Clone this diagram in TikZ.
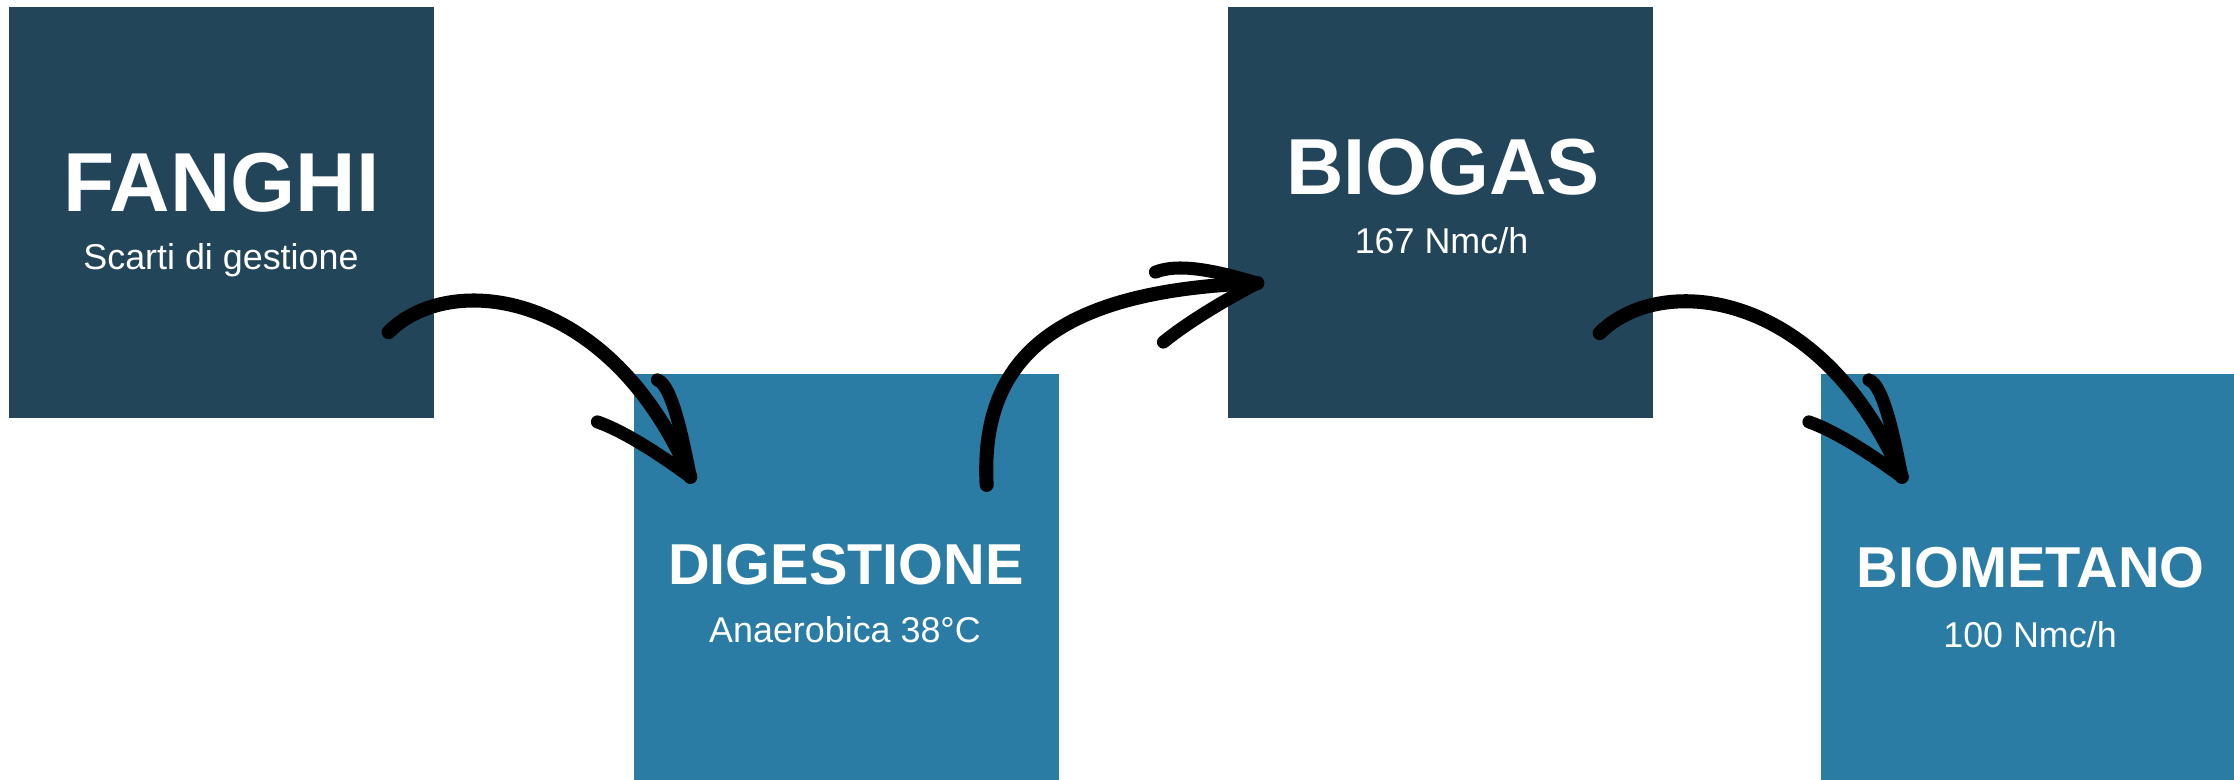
\documentclass[tikz,border=0pt]{standalone}
\usepackage{fontspec}
\setmainfont{Liberation Sans}
\definecolor{scuro}{RGB}{35,69,89}
\definecolor{chiaro}{RGB}{42,124,164}
\begin{document}
\begin{tikzpicture}[x=.01cm, y=-.01cm, line join=round, line cap=round,
	box/.style={fill=#1, inner sep=0pt, outer sep=0pt, minimum width=4.24cm, minimum height=4.11cm},
	titolo/.style={text=white, font=\bfseries\fontsize{#1}{#1}\selectfont, anchor=base, inner sep=0pt},
	sotto/.style={text=white, font=\fontsize{10.2}{12}\selectfont, anchor=base, inner sep=0pt},
	freccia/.style={line width=4pt},
	punta/.style={line width=3.7pt}]
	\useasboundingbox (0,0) rectangle (2234,780);
	% riquadri
	\node[box=scuro] (fanghi) at (221.5,212.5) {};
	\node[box=chiaro, minimum height=4.06cm] (digestione) at (846.5,577) {};
	\node[box=scuro] (biogas) at (1440.5,212.5) {};
	\node[box=chiaro, minimum width=4.13cm, minimum height=4.06cm] (biometano) at (2027.5,577) {};
	% testi
	\node[titolo=23.8] (fanghiT) at (221.5,212) {FANGHI};
	\node[sotto] (fanghiS) at (221,270) {Scarti di gestione};
	\node[titolo=16.4] (digestioneT) at (846,585) {DIGESTIONE};
	\node[sotto] (digestioneS) at (845,643) {Anaerobica 38°C};
	\node[titolo=22.6] (biogasT) at (1443,195) {BIOGAS};
	\node[sotto] (biogasS) at (1441.5,254) {167 Nmc/h};
	\node[titolo=16.4] (biometanoT) at (2030.5,588) {BIOMETANO};
	\node[sotto] (biometanoS) at (2030,648) {100 Nmc/h};
	% frecce
	\coordinate (c1) at ([shift={(-45,-86)}]fanghi.south east);
	\coordinate (p1) at ([shift={(56,103)}]digestione.north west);
	\coordinate (c2) at ([shift={(-72,111)}]digestione.north east);
	\coordinate (p2) at ([shift={(29,-135)}]biogas.south west);
	\coordinate (c3) at ([shift={(-53,-85)}]biogas.south east);
	\coordinate (p3) at ([shift={(81,103)}]biometano.north west);
	\draw[freccia] (c1) .. controls +(62,-62) and +(-80,-187) .. (p1);
	\draw[punta] ([shift={(-33,-97)}]p1) .. controls +(15,5) and +(-7,-35) .. (p1);
	\draw[punta] ([shift={(-93,-55)}]p1) .. controls +(28,10) and +(-30,-22) .. (p1);
	\draw[freccia] (c2) .. controls +(-7,-130) and +(-197,7) .. (p2);
	\draw[punta] ([shift={(-102,-11)}]p2) .. controls +(25,-10) and +(-37,-11) .. (p2);
	\draw[punta] ([shift={(-94,59)}]p2) .. controls +(27,-22) and +(-27,14) .. (p2);
	\draw[freccia] (c3) .. controls +(62,-62) and +(-80,-187) .. (p3);
	\draw[punta] ([shift={(-33,-97)}]p3) .. controls +(15,5) and +(-7,-35) .. (p3);
	\draw[punta] ([shift={(-93,-55)}]p3) .. controls +(28,10) and +(-30,-22) .. (p3);
\end{tikzpicture}
\end{document}
